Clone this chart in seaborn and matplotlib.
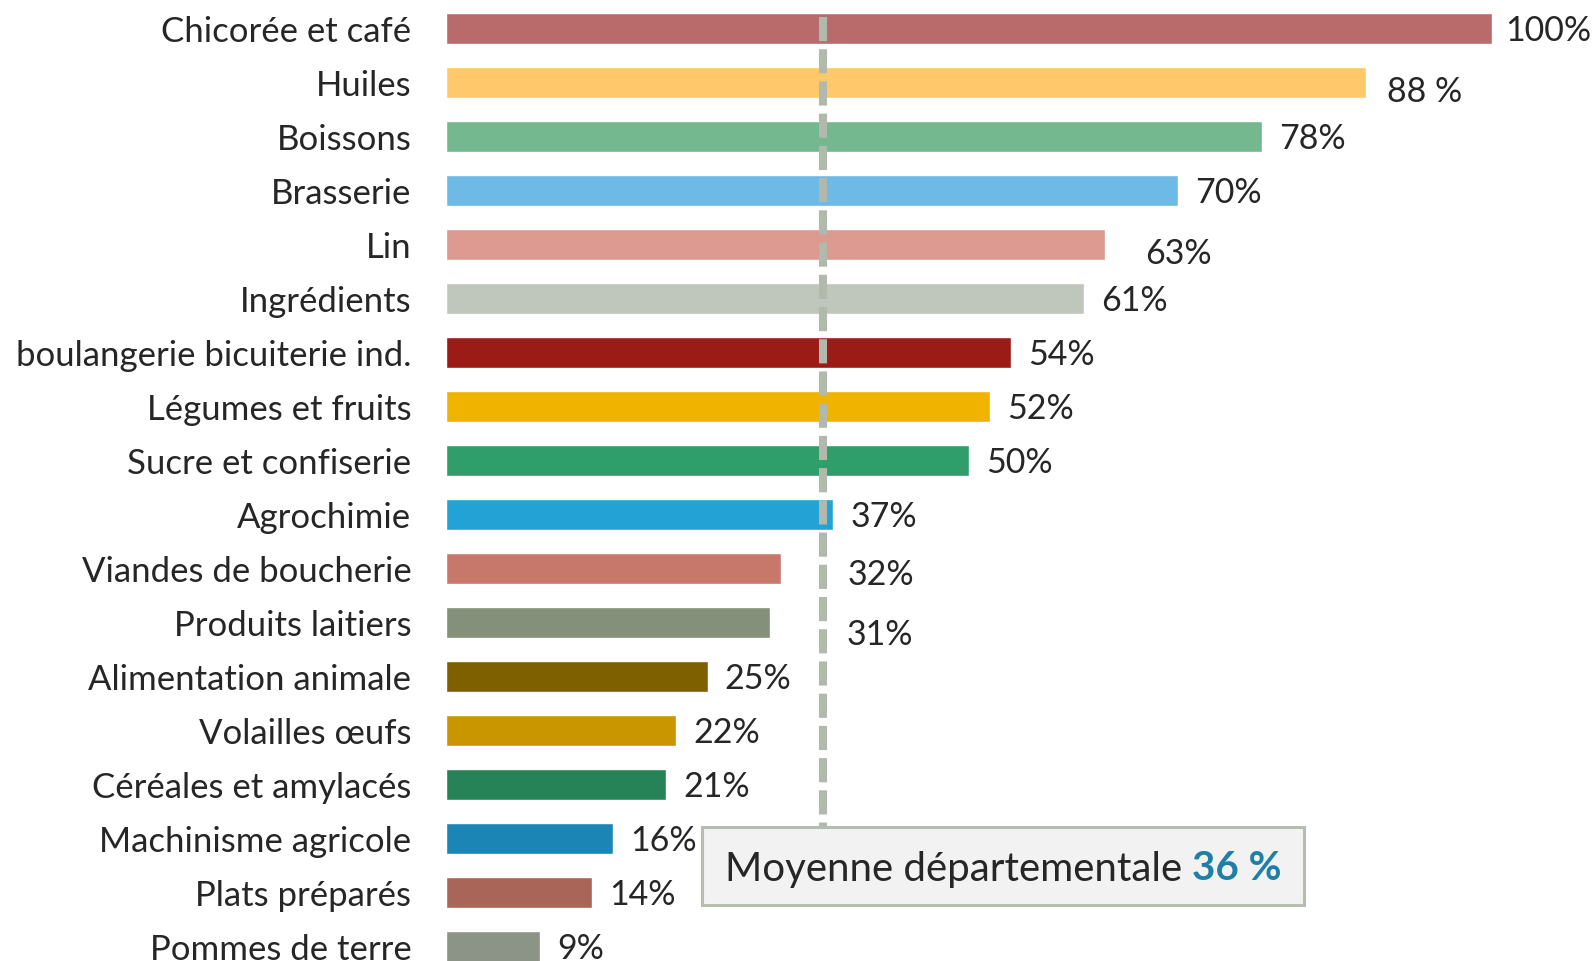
import matplotlib
matplotlib.use("Agg")
import matplotlib.pyplot as plt
import matplotlib.patches as mpatches
from matplotlib.text import Annotation
import seaborn as sns

# ===================== Data =====================
categories = [
    "Chicorée et café", "Huiles", "Boissons", "Brasserie", "Lin", "Ingrédients",
    "boulangerie bicuiterie ind.", "Légumes et fruits", "Sucre et confiserie",
    "Agrochimie", "Viandes de boucherie", "Produits laitiers",
    "Alimentation animale", "Volailles œufs", "Céréales et amylacés",
    "Machinisme agricole", "Plats préparés", "Pommes de terre",
]
values = [100, 88, 78, 70, 63, 61, 54, 52, 50, 37, 32, 31, 25, 22, 21, 16, 14, 9]
value_labels = ["100%", "88 %", "78%", "70%", "63%", "61%", "54%", "52%", "50%",
                "37%", "32%", "31%", "25%", "22%", "21%", "16%", "14%", "9%"]
colors = [
    "#B86B6A", "#FFC96B", "#74B88F", "#6EBAE6", "#DC9A90", "#BFC6BB",
    "#9B1B17", "#F0B400", "#2F9E6A", "#22A2D5", "#C8786B", "#85907A",
    "#7F6000", "#C99600", "#268257", "#1B86B5", "#A86558", "#8C9387",
]
average = 36
average_label = "36 %"

# ===================== Style =====================
sns.set_style("white")
plt.rcParams["font.family"] = ["Lato", "DejaVu Sans"]

W, H = 1594, 961
fig = plt.figure(figsize=(W / 100, H / 100), dpi=100)
ax = fig.add_axes([446 / W, 0, 1046 / W, 1])

sns.barplot(x=values, y=categories, hue=categories, palette=colors,
            legend=False, orient="h", width=0.563, saturation=1, ax=ax)

ax.set_xlim(0, 100)
ax.set_ylim(-0.528 + H / 54.0, -0.528)
sns.despine(ax=ax, left=True, bottom=True)
ax.set_xticks([])
ax.set_xlabel("")
ax.set_ylabel("")
ax.tick_params(axis="y", length=0, pad=25, labelsize=25)

# label nudges (data units) for the few labels placed off the default spot
nudges = {"100%": (-0.4, 0), "88 %": (0.3, 0.13), "63%": (2.2, 0.13),
          "32%": (4.7, 0.075), "31%": (5.6, 0.19)}
for i, (v, lab) in enumerate(zip(values, value_labels)):
    dx, dy = nudges.get(lab, (0, 0))
    ax.text(v + 1.65 + dx, i + dy + 0.04, lab, va="center", ha="left",
            fontsize=24.5, clip_on=False)

# average dashed line
box_top = -0.528 + 827 / 54.0
ax.plot([average, average], [-0.21, box_top], color="#B1B9AD", lw=5.8,
        dashes=(3, 1), solid_capstyle="butt", zorder=5)

# average box
box = mpatches.Rectangle((702 / W, 1 - 905 / H), (1304 - 702) / W, (905 - 827) / H,
                         transform=fig.transFigure, facecolor="#F2F2F2",
                         edgecolor="#B5BDB0", lw=2.2, zorder=6)
fig.patches.append(box)
t1 = fig.text(725 / W, 1 - 869 / H, "Moyenne départementale ", fontsize=29,
              va="center", ha="left", zorder=7)
t2 = Annotation(average_label, xy=(1, 0.5), xycoords=t1, va="center", ha="left",
                fontsize=29, fontweight="bold", color="#1F7FA6", zorder=7)
fig.add_artist(t2)

fig.savefig("out.png", dpi=100)
